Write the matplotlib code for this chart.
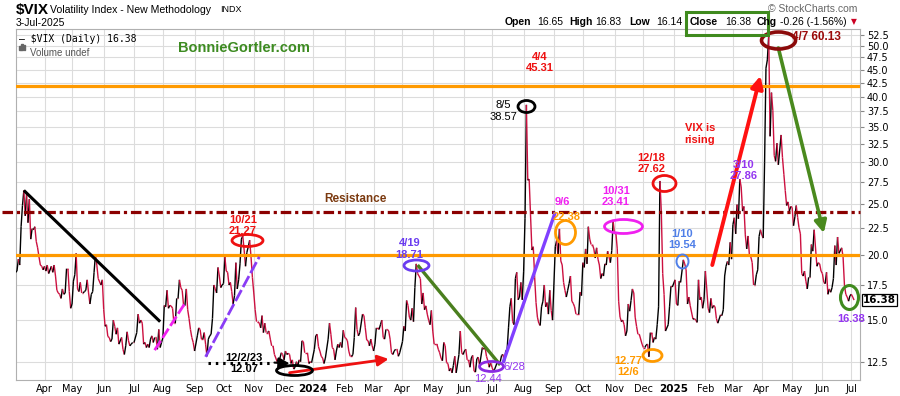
import numpy as np
import matplotlib
matplotlib.use("Agg")
import matplotlib.pyplot as plt
import matplotlib.transforms as mtrans
from matplotlib.collections import LineCollection
from matplotlib.patches import Rectangle
from matplotlib.path import Path

# ---- data: VIX daily closes ----
vix_dates = [
    "2023-03-03", "2023-03-06", "2023-03-07", "2023-03-08", "2023-03-09", "2023-03-10", "2023-03-13", "2023-03-14",
    "2023-03-15", "2023-03-16", "2023-03-17", "2023-03-20", "2023-03-21", "2023-03-22", "2023-03-23", "2023-03-24",
    "2023-03-27", "2023-03-28", "2023-03-29", "2023-03-30", "2023-03-31",
    "2023-04-03", "2023-04-04", "2023-04-05", "2023-04-06", "2023-04-10", "2023-04-11", "2023-04-12", "2023-04-13",
    "2023-04-14", "2023-04-17", "2023-04-18", "2023-04-19", "2023-04-20", "2023-04-21", "2023-04-24", "2023-04-25",
    "2023-04-26", "2023-04-27", "2023-04-28",
    "2023-05-01", "2023-05-02", "2023-05-03", "2023-05-04", "2023-05-05", "2023-05-08", "2023-05-09", "2023-05-10",
    "2023-05-11", "2023-05-12", "2023-05-15", "2023-05-16", "2023-05-17", "2023-05-18", "2023-05-19", "2023-05-22",
    "2023-05-23", "2023-05-24", "2023-05-25", "2023-05-26", "2023-05-30", "2023-05-31",
    "2023-06-01", "2023-06-02", "2023-06-05", "2023-06-06", "2023-06-07", "2023-06-08", "2023-06-09", "2023-06-12",
    "2023-06-13", "2023-06-14", "2023-06-15", "2023-06-16", "2023-06-20", "2023-06-21", "2023-06-22", "2023-06-23",
    "2023-06-26", "2023-06-27", "2023-06-28", "2023-06-29", "2023-06-30",
    "2023-07-03", "2023-07-05", "2023-07-06", "2023-07-07", "2023-07-10", "2023-07-11", "2023-07-12", "2023-07-13",
    "2023-07-14", "2023-07-17", "2023-07-18", "2023-07-19", "2023-07-20", "2023-07-21", "2023-07-24", "2023-07-25",
    "2023-07-26", "2023-07-27", "2023-07-28", "2023-07-31",
    "2023-08-01", "2023-08-02", "2023-08-03", "2023-08-04", "2023-08-07", "2023-08-08", "2023-08-09", "2023-08-10",
    "2023-08-11", "2023-08-14", "2023-08-15", "2023-08-16", "2023-08-17", "2023-08-18", "2023-08-21", "2023-08-22",
    "2023-08-23", "2023-08-24", "2023-08-25", "2023-08-28", "2023-08-29", "2023-08-30", "2023-08-31",
    "2023-09-01", "2023-09-05", "2023-09-06", "2023-09-07", "2023-09-08", "2023-09-11", "2023-09-12", "2023-09-13",
    "2023-09-14", "2023-09-15", "2023-09-18", "2023-09-19", "2023-09-20", "2023-09-21", "2023-09-22", "2023-09-25",
    "2023-09-26", "2023-09-27", "2023-09-28", "2023-09-29",
    "2023-10-02", "2023-10-03", "2023-10-04", "2023-10-05", "2023-10-06", "2023-10-09", "2023-10-10", "2023-10-11",
    "2023-10-12", "2023-10-13", "2023-10-16", "2023-10-17", "2023-10-18", "2023-10-19", "2023-10-20", "2023-10-23",
    "2023-10-24", "2023-10-25", "2023-10-26", "2023-10-27", "2023-10-30", "2023-10-31",
    "2023-11-01", "2023-11-02", "2023-11-03", "2023-11-06", "2023-11-07", "2023-11-08", "2023-11-09", "2023-11-10",
    "2023-11-13", "2023-11-14", "2023-11-15", "2023-11-16", "2023-11-17", "2023-11-20", "2023-11-21", "2023-11-22",
    "2023-11-24", "2023-11-27", "2023-11-28", "2023-11-29", "2023-11-30",
    "2023-12-01", "2023-12-04", "2023-12-05", "2023-12-06", "2023-12-07", "2023-12-08", "2023-12-11", "2023-12-12",
    "2023-12-13", "2023-12-14", "2023-12-15", "2023-12-18", "2023-12-19", "2023-12-20", "2023-12-21", "2023-12-22",
    "2023-12-26", "2023-12-27", "2023-12-28", "2023-12-29",
    "2024-01-02", "2024-01-03", "2024-01-04", "2024-01-05", "2024-01-08", "2024-01-09", "2024-01-10", "2024-01-11",
    "2024-01-12", "2024-01-16", "2024-01-17", "2024-01-18", "2024-01-19", "2024-01-22", "2024-01-23", "2024-01-24",
    "2024-01-25", "2024-01-26", "2024-01-29", "2024-01-30", "2024-01-31",
    "2024-02-01", "2024-02-02", "2024-02-05", "2024-02-06", "2024-02-07", "2024-02-08", "2024-02-09", "2024-02-12",
    "2024-02-13", "2024-02-14", "2024-02-15", "2024-02-16", "2024-02-20", "2024-02-21", "2024-02-22", "2024-02-23",
    "2024-02-26", "2024-02-27", "2024-02-28", "2024-02-29",
    "2024-03-01", "2024-03-04", "2024-03-05", "2024-03-06", "2024-03-07", "2024-03-08", "2024-03-11", "2024-03-12",
    "2024-03-13", "2024-03-14", "2024-03-15", "2024-03-18", "2024-03-19", "2024-03-20", "2024-03-21", "2024-03-22",
    "2024-03-25", "2024-03-26", "2024-03-27", "2024-03-28",
    "2024-04-01", "2024-04-02", "2024-04-03", "2024-04-04", "2024-04-05", "2024-04-08", "2024-04-09", "2024-04-10",
    "2024-04-11", "2024-04-12", "2024-04-15", "2024-04-16", "2024-04-17", "2024-04-18", "2024-04-19", "2024-04-22",
    "2024-04-23", "2024-04-24", "2024-04-25", "2024-04-26", "2024-04-29", "2024-04-30",
    "2024-05-01", "2024-05-02", "2024-05-03", "2024-05-06", "2024-05-07", "2024-05-08", "2024-05-09", "2024-05-10",
    "2024-05-13", "2024-05-14", "2024-05-15", "2024-05-16", "2024-05-17", "2024-05-20", "2024-05-21", "2024-05-22",
    "2024-05-23", "2024-05-24", "2024-05-28", "2024-05-29", "2024-05-30", "2024-05-31",
    "2024-06-03", "2024-06-04", "2024-06-05", "2024-06-06", "2024-06-07", "2024-06-10", "2024-06-11", "2024-06-12",
    "2024-06-13", "2024-06-14", "2024-06-17", "2024-06-18", "2024-06-20", "2024-06-21", "2024-06-24", "2024-06-25",
    "2024-06-26", "2024-06-27", "2024-06-28",
    "2024-07-01", "2024-07-02", "2024-07-03", "2024-07-05", "2024-07-08", "2024-07-09", "2024-07-10", "2024-07-11",
    "2024-07-12", "2024-07-15", "2024-07-16", "2024-07-17", "2024-07-18", "2024-07-19", "2024-07-22", "2024-07-23",
    "2024-07-24", "2024-07-25", "2024-07-26", "2024-07-29", "2024-07-30", "2024-07-31",
    "2024-08-01", "2024-08-02", "2024-08-05", "2024-08-06", "2024-08-07", "2024-08-08", "2024-08-09", "2024-08-12",
    "2024-08-13", "2024-08-14", "2024-08-15", "2024-08-16", "2024-08-19", "2024-08-20", "2024-08-21", "2024-08-22",
    "2024-08-23", "2024-08-26", "2024-08-27", "2024-08-28", "2024-08-29", "2024-08-30",
    "2024-09-03", "2024-09-04", "2024-09-05", "2024-09-06", "2024-09-09", "2024-09-10", "2024-09-11", "2024-09-12",
    "2024-09-13", "2024-09-16", "2024-09-17", "2024-09-18", "2024-09-19", "2024-09-20", "2024-09-23", "2024-09-24",
    "2024-09-25", "2024-09-26", "2024-09-27", "2024-09-30",
    "2024-10-01", "2024-10-02", "2024-10-03", "2024-10-04", "2024-10-07", "2024-10-08", "2024-10-09", "2024-10-10",
    "2024-10-11", "2024-10-14", "2024-10-15", "2024-10-16", "2024-10-17", "2024-10-18", "2024-10-21", "2024-10-22",
    "2024-10-23", "2024-10-24", "2024-10-25", "2024-10-28", "2024-10-29", "2024-10-30", "2024-10-31",
    "2024-11-01", "2024-11-04", "2024-11-05", "2024-11-06", "2024-11-07", "2024-11-08", "2024-11-11", "2024-11-12",
    "2024-11-13", "2024-11-14", "2024-11-15", "2024-11-18", "2024-11-19", "2024-11-20", "2024-11-21", "2024-11-22",
    "2024-11-25", "2024-11-26", "2024-11-27", "2024-11-29",
    "2024-12-02", "2024-12-03", "2024-12-04", "2024-12-05", "2024-12-06", "2024-12-09", "2024-12-10", "2024-12-11",
    "2024-12-12", "2024-12-13", "2024-12-16", "2024-12-17", "2024-12-18", "2024-12-19", "2024-12-20", "2024-12-23",
    "2024-12-24", "2024-12-26", "2024-12-27", "2024-12-30", "2024-12-31",
    "2025-01-02", "2025-01-03", "2025-01-06", "2025-01-07", "2025-01-08", "2025-01-10", "2025-01-13", "2025-01-14",
    "2025-01-15", "2025-01-16", "2025-01-17", "2025-01-21", "2025-01-22", "2025-01-23", "2025-01-24", "2025-01-27",
    "2025-01-28", "2025-01-29", "2025-01-30", "2025-01-31",
    "2025-02-03", "2025-02-04", "2025-02-05", "2025-02-06", "2025-02-07", "2025-02-10", "2025-02-11", "2025-02-12",
    "2025-02-13", "2025-02-14", "2025-02-18", "2025-02-19", "2025-02-20", "2025-02-21", "2025-02-24", "2025-02-25",
    "2025-02-26", "2025-02-27", "2025-02-28",
    "2025-03-03", "2025-03-04", "2025-03-05", "2025-03-06", "2025-03-07", "2025-03-10", "2025-03-11", "2025-03-12",
    "2025-03-13", "2025-03-14", "2025-03-17", "2025-03-18", "2025-03-19", "2025-03-20", "2025-03-21", "2025-03-24",
    "2025-03-25", "2025-03-26", "2025-03-27", "2025-03-28", "2025-03-31",
    "2025-04-01", "2025-04-02", "2025-04-03", "2025-04-04", "2025-04-07", "2025-04-08", "2025-04-09", "2025-04-10",
    "2025-04-11", "2025-04-14", "2025-04-15", "2025-04-16", "2025-04-17", "2025-04-21", "2025-04-22", "2025-04-23",
    "2025-04-24", "2025-04-25", "2025-04-28", "2025-04-29", "2025-04-30",
    "2025-05-01", "2025-05-02", "2025-05-05", "2025-05-06", "2025-05-07", "2025-05-08", "2025-05-09", "2025-05-12",
    "2025-05-13", "2025-05-14", "2025-05-15", "2025-05-16", "2025-05-19", "2025-05-20", "2025-05-21", "2025-05-22",
    "2025-05-23", "2025-05-27", "2025-05-28", "2025-05-29", "2025-05-30",
    "2025-06-02", "2025-06-03", "2025-06-04", "2025-06-05", "2025-06-06", "2025-06-09", "2025-06-10", "2025-06-11",
    "2025-06-12", "2025-06-13", "2025-06-16", "2025-06-17", "2025-06-18", "2025-06-20", "2025-06-23", "2025-06-24",
    "2025-06-25", "2025-06-26", "2025-06-27", "2025-06-30",
    "2025-07-01", "2025-07-02", "2025-07-03",
]
vix_close = [
    18.5, 18.6, 19.6, 19.1, 22.6, 24.8, 26.5, 23.7,
    26.1, 23.0, 25.5, 21.4, 22.4, 22.3, 22.6, 21.2,
    20.6, 19.8, 19.1, 19.0, 18.7,
    19.0, 18.6, 19.1, 18.4, 19.0, 18.5, 19.1, 18.2,
    17.1, 16.9, 16.8, 16.5, 17.2, 16.8, 16.9, 18.8,
    18.8, 17.0, 15.8,
    16.1, 17.8, 18.3, 20.1, 17.2, 17.0, 17.7, 16.9,
    16.9, 17.0, 17.1, 17.9, 16.9, 16.1, 16.8, 17.0,
    18.5, 20.0, 19.1, 18.0, 17.5, 17.9,
    15.7, 14.6, 14.7, 13.96, 13.9, 13.65, 13.8, 15.0,
    14.6, 14.1, 14.5, 13.5, 13.9, 13.2, 12.9, 13.4,
    14.25, 13.7, 13.4, 13.5, 13.6,
    13.6, 14.2, 15.4, 14.8, 15.0, 14.8, 13.5, 13.6,
    13.3, 13.5, 13.3, 13.8, 14.0, 13.6, 13.9, 13.9,
    13.2, 14.4, 13.3, 13.6,
    13.9, 16.0, 15.9, 17.1, 15.8, 16.0, 15.96, 15.8,
    14.8, 14.8, 16.5, 16.5, 17.9, 17.3, 17.1, 16.0,
    15.98, 17.2, 15.7, 15.1, 14.4, 13.9, 13.6,
    13.1, 14.0, 14.5, 14.4, 13.8, 13.8, 14.2, 13.5,
    12.8, 13.8, 14.0, 14.1, 15.1, 17.5, 17.2, 16.9,
    18.9, 18.2, 17.3, 17.5,
    17.6, 19.8, 18.6, 18.5, 17.5, 17.7, 17.0, 16.1,
    16.7, 19.3, 17.2, 17.9, 19.2, 21.4, 21.7, 20.4,
    19.0, 20.2, 20.7, 21.3, 19.8, 18.1,
    16.9, 15.7, 14.9, 14.9, 14.8, 14.5, 15.3, 14.2,
    14.8, 14.2, 14.2, 14.3, 13.8, 13.4, 13.4, 12.9,
    12.5, 12.7, 12.7, 13.0, 12.9,
    12.6, 13.1, 12.9, 12.97, 12.9, 12.4, 12.6, 12.1,
    12.2, 12.5, 12.3, 12.6, 12.5, 13.7, 13.65, 13.0,
    13.0, 12.4, 12.5, 12.45,
    13.2, 14.0, 14.1, 13.35, 13.1, 12.8, 12.7, 12.4,
    12.7, 13.8, 14.8, 14.1, 13.3, 13.2, 12.6, 13.1,
    13.5, 13.3, 13.6, 13.3, 14.35,
    13.9, 13.85, 13.7, 13.1, 12.8, 12.8, 12.9, 13.9,
    15.85, 14.4, 14.0, 14.2, 15.4, 15.3, 14.5, 13.75,
    13.7, 13.4, 13.8, 13.4,
    13.1, 13.5, 14.5, 14.5, 14.4, 14.7, 15.0, 13.9,
    13.8, 14.4, 14.4, 14.3, 13.8, 13.0, 12.9, 13.1,
    13.2, 13.2, 12.8, 13.0,
    13.65, 14.6, 14.3, 16.35, 16.0, 15.2, 15.0, 15.8,
    14.9, 17.3, 19.2, 18.4, 18.2, 18.0, 16.1, 16.9,
    15.7, 15.97, 15.4, 15.0, 14.7, 15.65,
    14.3, 13.5, 13.5, 13.5, 13.2, 13.0, 12.7, 12.55,
    13.6, 13.4, 12.45, 12.4, 12.0, 12.15, 11.9, 12.3,
    12.8, 11.9, 12.9, 14.3, 13.0, 12.9,
    13.1, 13.2, 12.6, 12.6, 12.2, 12.7, 12.85, 12.0,
    11.94, 12.66, 12.75, 12.3, 13.3, 13.2, 13.3, 12.8,
    12.55, 12.2, 12.44,
    12.2, 12.0, 12.1, 12.5, 12.4, 12.5, 12.85, 12.9,
    12.46, 13.1, 13.2, 14.5, 15.9, 16.5, 14.9, 14.7,
    18.0, 18.5, 16.4, 16.6, 17.7, 16.4,
    18.6, 23.4, 38.57, 27.7, 27.85, 23.8, 20.4, 20.7,
    18.1, 16.2, 15.2, 14.8, 14.65, 15.9, 16.3, 17.5,
    15.9, 16.2, 15.4, 17.1, 15.65, 15.0,
    20.7, 21.3, 19.9, 22.38, 19.45, 19.1, 17.7, 17.1,
    16.6, 17.1, 17.6, 18.2, 16.3, 16.15, 15.9, 15.4,
    15.4, 15.4, 16.96, 16.7,
    19.3, 18.9, 20.5, 19.2, 22.6, 21.4, 20.9, 20.9,
    20.5, 19.7, 20.6, 19.6, 19.1, 18.0, 18.4, 18.2,
    19.2, 19.1, 20.3, 19.8, 19.3, 20.35, 23.16,
    21.9, 21.98, 20.5, 16.3, 15.2, 14.9, 15.0, 14.7,
    14.0, 14.3, 16.1, 15.6, 16.35, 17.2, 16.9, 15.2,
    14.6, 14.1, 14.1, 13.5,
    13.3, 13.3, 13.45, 13.5, 12.77, 14.2, 14.2, 13.6,
    13.9, 13.8, 14.7, 15.9, 27.62, 24.1, 18.4, 16.8,
    14.3, 14.7, 15.95, 17.4, 17.35,
    17.9, 16.1, 16.0, 17.8, 17.7, 19.54, 19.2, 18.7,
    16.1, 16.6, 15.97, 15.06, 15.1, 15.0, 14.85, 17.9,
    16.4, 16.6, 15.8, 16.4,
    18.6, 17.2, 15.8, 15.5, 16.5, 15.8, 16.0, 15.9,
    15.1, 14.8, 15.35, 15.3, 15.7, 18.2, 19.0, 19.4,
    19.1, 21.1, 19.6,
    22.8, 23.5, 21.9, 24.9, 23.4, 27.86, 26.9, 24.2,
    24.7, 21.8, 20.5, 21.7, 19.9, 19.8, 19.3, 17.5,
    17.5, 18.3, 18.7, 21.65, 22.3,
    21.8, 21.5, 30.0, 45.31, 46.98, 52.33, 33.6, 40.7,
    37.6, 30.9, 30.1, 32.6, 29.65, 33.8, 30.6, 28.45,
    26.5, 24.8, 25.2, 24.2, 24.7,
    24.6, 22.7, 23.6, 24.8, 23.55, 22.5, 21.9, 18.4,
    18.2, 18.6, 17.8, 17.2, 18.1, 18.1, 20.9, 20.3,
    22.3, 19.0, 19.3, 19.2, 18.6,
    18.4, 17.7, 17.6, 18.5, 16.8, 17.2, 16.95, 17.3,
    18.0, 20.8, 19.1, 21.6, 20.1, 20.6, 19.8, 17.5,
    16.8, 16.6, 16.3, 16.7,
    16.8, 16.6, 16.38,
]
assert len(vix_dates) == len(vix_close)

support_upper = 41.9
support_lower = 20.0
resistance = 24.1
last_close = 16.38
ytick_vals = [12.5, 15.0, 17.5, 20.0, 22.5, 25.0, 27.5, 30.0, 32.5, 35.0,
              37.5, 40.0, 42.5, 45.0, 47.5, 50.0, 52.5]

ORIGIN = "2023-03-01"


def td(d):
    # trading-day position (StockCharts spaces bars by session, not calendar)
    return np.busday_count(ORIGIN, np.asarray(d, dtype="datetime64[D]"))


SANS = ["Liberation Sans", "DejaVu Sans"]
RED, DRED = "#ee1111", "#9b0a0a"
ORANGE, MAGENTA = "#ff9a00", "#f020f0"
BVIOLET, PURPLE = "#6a3cf0", "#9436f0"
GREEN, BLUE = "#468a1e", "#4f7fe8"

fig = plt.figure(figsize=(9, 3.96), dpi=100)
ax = fig.add_axes([16 / 900, 16 / 396, 844 / 900, 351 / 396])
ax.set_yscale("log")
ax.set_ylim(11.535, 53.8)
ax.set_xlim(2.3, 615.3)

# grid: month starts + price ticks
months = [(y, m) for y in (2023, 2024, 2025) for m in range(1, 13)]
months = [(y, m) for (y, m) in months if (2023, 4) <= (y, m) <= (2025, 7)]
mpos = [int(td(np.busday_offset(f"{y}-{m:02d}-01", 0, roll="forward"))) for y, m in months]
mlab = [str(y) if m == 1 else ["Jan", "Feb", "Mar", "Apr", "May", "Jun", "Jul", "Aug",
                               "Sep", "Oct", "Nov", "Dec"][m - 1] for y, m in months]
ax.set_xticks(mpos)
ax.set_xticklabels(mlab, fontsize=7)
for lab, (y, m) in zip(ax.get_xticklabels(), months):
    if m == 1:
        lab.set_fontweight("bold")
        lab.set_fontsize(7.5)
ax.tick_params(axis="x", length=0, pad=3)

ax.yaxis.tick_right()
ax.set_yticks(ytick_vals)
ax.set_yticklabels([f"{v:.1f}" for v in ytick_vals], fontsize=7)
ax.yaxis.set_minor_locator(matplotlib.ticker.NullLocator())
ax.tick_params(axis="y", length=3, color="#888888", pad=2)
ax.grid(True, color="#dcdcdc", lw=0.8)
ax.set_axisbelow(True)
for s in ax.spines.values():
    s.set_color("#b0b0b0")

# price line: black on up days, crimson on down days
xs = td(vix_dates).astype(float)
ys = np.array(vix_close)
segs = np.stack([np.column_stack([xs[:-1], ys[:-1]]), np.column_stack([xs[1:], ys[1:]])], axis=1)
cols = ["#000000" if b > a else "#cc1040" for a, b in zip(ys[:-1], ys[1:])]
ax.add_collection(LineCollection(segs, colors=cols, linewidths=1.0, zorder=3))

# horizontal levels
ax.axhline(support_upper, color=ORANGE, lw=2.3, zorder=4)
ax.axhline(support_lower, color=ORANGE, lw=2.3, zorder=4)
ax.plot([-8, 615.3], [resistance] * 2, color="#8b0000", lw=2.3,
        ls=(0, (3.3, 1.2, 1.0, 1.2)), clip_on=False, zorder=4)


def ell(w, h):
    c = Path.unit_circle()
    return Path(c.vertices * np.array([w, h]), c.codes)


def ring(d, v, w, h, color, lw=2.0):
    ax.plot([td(d)], [v], marker=ell(w, h), ms=max(w, h) * 0.72, mfc="none",
            mec=color, mew=lw, zorder=6, clip_on=False)


def seg(d0, v0, d1, v1, color, lw=2.2, ls="-"):
    ax.plot([td(d0), td(d1)], [v0, v1], color=color, lw=lw, ls=ls, zorder=5,
            solid_capstyle="butt")


def arrow(d0, v0, d1, v1, color, lw=2.2, ms=14):
    ax.annotate("", xy=(td(d1), v1), xytext=(td(d0), v0),
                arrowprops=dict(arrowstyle="-|>", color=color, lw=lw,
                                mutation_scale=ms, shrinkA=0, shrinkB=0), zorder=6)


def label(d, v, s, color, bold=True, size=8, **kw):
    ax.text(td(d), v, s, color=color, ha="center", va="center", fontsize=size,
            fontweight="bold" if bold else "normal", family=SANS, zorder=7, **kw)


# trend lines and arrows
seg("2023-03-13", 26.5, "2023-07-28", 14.9, "black", lw=2.2)
seg("2023-07-24", 13.15, "2023-08-23", 16.15, MAGENTA, lw=2.0, ls=(0, (4, 1.2)))
seg("2023-09-13", 12.77, "2023-11-07", 19.8, "#8a3cf5", lw=2.0, ls=(0, (4.5, 1.2)))
ax.plot([td("2023-09-15"), td("2023-11-22")], [12.45, 12.45], color="black", lw=2.2,
        ls=(0, (0.8, 1.6)), zorder=5)
arrow("2023-11-22", 12.45, "2023-12-07", 12.4, "black", lw=1.5, ms=16)
arrow("2023-12-07", 11.91, "2024-03-18", 12.65, "#ee1111", lw=2.0, ms=16)
seg("2024-04-16", 19.1, "2024-07-09", 12.32, "#4a7f1e", lw=2.4)
seg("2024-07-11", 12.43, "2024-09-03", 24.1, "#8040ff", lw=2.4)
arrow("2025-02-10", 19.1, "2025-03-31", 43.8, "#ff1111", lw=2.8, ms=18)
arrow("2025-04-17", 49.5, "2025-06-03", 21.98, "#4a8a1e", lw=2.6, ms=18)

# circled points
ring("2023-10-25", 21.3, 31, 12, RED)
ring("2023-12-12", 12.07, 36, 10, "black")
ring("2024-04-15", 19.1, 25, 11, BVIOLET)
ring("2024-06-28", 12.27, 24, 10, "#8a2be2")
ring("2024-08-05", 38.4, 17, 12, "black")
ring("2024-09-12", 22.1, 20, 24, ORANGE)
ring("2024-11-11", 22.7, 38, 14, MAGENTA)
ring("2024-12-23", 27.4, 23, 16, RED)
ring("2024-12-10", 12.87, 19, 12, ORANGE)
ring("2025-01-09", 19.4, 12, 14, BLUE, lw=1.4)
ring("2025-04-17", 51.3, 34, 17, "#8b0a0a", lw=2.6)
ring("2025-06-27", 16.6, 18, 24, "#3f8a1e", lw=2.2)

# labels
label("2023-10-20", 22.72, "10/21\n21.27", RED)
label("2023-10-23", 12.40, "12/2/23\n12.07", "black")
label("2024-04-08", 20.5, "4/19\n18.71", BVIOLET)
label("2024-07-23", 12.21, "6/28", PURPLE, bold=False)
label("2024-06-26", 11.59, "12.44", PURPLE, bold=False, clip_on=False)
label("2024-07-11", 37.56, "8/5\n38.57", "black", bold=False)
label("2024-08-19", 46.45, "4/4\n45.31", RED)
label("2024-09-10", 25.2, "9/6", MAGENTA)
label("2024-09-13", 23.6, "22.38", ORANGE)
label("2024-11-04", 25.78, "10/31\n23.41", MAGENTA)
label("2024-12-10", 29.8, "12/18\n27.62", RED)
label("2024-11-15", 12.23, "12.77\n12/6", ORANGE)
label("2025-01-09", 21.35, "1/10\n19.54", BLUE)
label("2025-01-28", 33.95, "VIX is\nrising", RED)
label("2025-03-13", 28.9, "3/10\n27.86", PURPLE)
label("2025-05-27", 52.0, "4/7 60.13", DRED, size=8.5)
label("2025-07-01", 15.07, "16.38", PURPLE)
label("2024-02-13", 25.5, "Resistance", "#7b3a10", size=8.5)

# last-price box on the right axis
bt = mtrans.blended_transform_factory(ax.transAxes, ax.transData)
ax.text(1.0035, last_close, f"{last_close:.2f}", transform=bt, ha="left", va="center",
        fontsize=7.5, fontweight="bold", clip_on=False,
        bbox=dict(boxstyle="square,pad=0.12", fc="white", ec="black", lw=0.9))

# legend inside the plot
ax.text(0.003, 0.985, "\u2014 $VIX (Daily) 16.38", transform=ax.transAxes, ha="left",
        va="top", fontsize=7, family="DejaVu Sans Mono", zorder=8)
ax.text(0.017, 0.945, "Volume undef", transform=ax.transAxes, ha="left", va="top",
        fontsize=7, color="#555555", family=SANS, zorder=8)
for k, hgt in enumerate((4, 6, 5)):
    fig.add_artist(Rectangle(((19 + 2.4 * k) / 900, 1 - 50 / 396), 1.6 / 900, hgt / 396,
                             color="#666666"))
fig.text(244 / 900, 1 - 48 / 396, "BonnieGortler.com", color="#3d8b21", fontsize=10.5,
         fontweight="bold", family=SANS, ha="center", va="center")


# header
def P(x, y):
    return x / 900, 1 - y / 396


fig.text(*P(16, 10), "$VIX", fontsize=11, fontweight="bold", family=SANS, va="center")
fig.text(*P(50, 10), "Volatility Index - New Methodology", fontsize=7.6, family=SANS, va="center")
fig.text(*P(220, 10), "INDX", fontsize=6.5, family=SANS, va="center")
fig.text(*P(16, 23), "3-Jul-2025", fontsize=7.5, family=SANS, va="center")
fig.text(*P(768, 9), "\u00a9 StockCharts.com", fontsize=7.5, family=SANS, color="#666666", va="center")
hdr = [(505, "Open", True), (537, "16.65", False), (569, "High", True), (595, "16.83", False),
       (629, "Low", True), (656, "16.14", False), (690, "Close", True), (725, "16.38", False),
       (757, "Chg", True), (780, "-0.26 (-1.56%)", False)]
for x, s, b in hdr:
    fig.text(*P(x, 22), s, fontsize=7.5, family=SANS, va="center",
             fontweight="bold" if b else "normal")
fig.text(*P(851, 22), "\u25bc", fontsize=5.5, color="#cc0022", va="center", family="DejaVu Sans")
fig.add_artist(Rectangle(P(686, 35), 82 / 900, 23 / 396, fill=False, ec="#3f8a1e", lw=2.2))

fig.savefig("out.png", dpi=100)
